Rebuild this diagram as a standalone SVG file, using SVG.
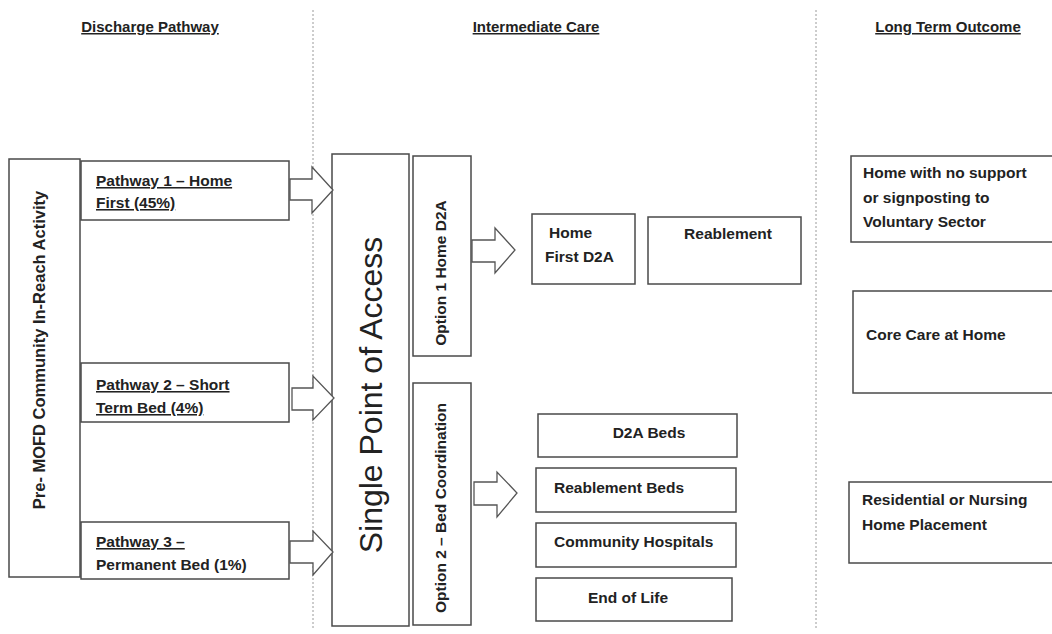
<svg xmlns="http://www.w3.org/2000/svg" width="1052" height="634" viewBox="0 0 1052 634">
<style>
.bg{fill:#ffffff}
.box{fill:#ffffff;stroke:#4a4a4a;stroke-width:1.5}
.div{stroke:#9a9a9a;stroke-width:1;stroke-dasharray:2,2;fill:none}
.arr{fill:#ffffff;stroke:#555555;stroke-width:1.3;stroke-linejoin:miter}
.hd{font-family:"Liberation Sans",Arial,sans-serif;font-weight:bold;font-size:15px;fill:#222;text-decoration:underline}
.t{font-family:"Liberation Sans",Arial,sans-serif;font-weight:bold;font-size:15.5px;fill:#222}
.u{text-decoration:underline}
.big{font-family:"Liberation Sans",Arial,sans-serif;font-size:32px;fill:#222}
</style>
<rect class="bg" x="0" y="0" width="1052" height="634"/>
<g id="dividers">
<line class="div" x1="313" y1="10" x2="313" y2="630"/>
<line class="div" x1="816" y1="10" x2="816" y2="630"/>
</g>
<g id="headers">
<text class="hd" x="150" y="32" text-anchor="middle">Discharge Pathway</text>
<text class="hd" x="536" y="32" text-anchor="middle">Intermediate Care</text>
<text class="hd" x="948" y="32" text-anchor="middle">Long Term Outcome</text>
</g>
<g id="pre-mofd">
<rect class="box" x="9" y="159" width="71" height="418"/>
<text class="t" style="font-size:16.5px" transform="translate(45,350) rotate(-90)" text-anchor="middle">Pre- MOFD Community In-Reach Activity</text>
</g>
<g id="pathway1">
<rect class="box" x="81" y="161" width="208" height="59"/>
<text class="t u" x="96" y="186">Pathway 1 – Home</text>
<text class="t u" x="96" y="208">First (45%)</text>
</g>
<g id="pathway2">
<rect class="box" x="81" y="363" width="208" height="59"/>
<text class="t u" x="96" y="390">Pathway 2 – Short</text>
<text class="t u" x="96" y="413">Term Bed (4%)</text>
</g>
<g id="pathway3">
<rect class="box" x="81" y="522" width="208" height="57"/>
<text class="t u" x="96" y="547">Pathway 3 –</text>
<text class="t" x="96" y="570">Permanent Bed (1%)</text>
</g>
<g id="spa">
<rect class="box" x="332" y="154" width="77" height="472"/>
<text class="big" transform="translate(382,395) rotate(-90)" text-anchor="middle">Single Point of Access</text>
</g>
<g id="option1">
<rect class="box" x="413" y="156" width="58" height="200"/>
<text class="t" transform="translate(446,273) rotate(-90)" text-anchor="middle">Option 1 Home D2A</text>
</g>
<g id="option2">
<rect class="box" x="413" y="383" width="58" height="242"/>
<text class="t" transform="translate(446,508) rotate(-90)" text-anchor="middle">Option 2 – Bed Coordination</text>
</g>
<g id="home-first-d2a">
<rect class="box" x="532" y="214" width="103" height="70"/>
<text class="t" x="549" y="238">Home</text>
<text class="t" x="545" y="262">First D2A</text>
</g>
<g id="reablement">
<rect class="box" x="648" y="217" width="153" height="67"/>
<text class="t" x="728" y="239" text-anchor="middle">Reablement</text>
</g>
<g id="d2a-beds">
<rect class="box" x="538" y="414" width="199" height="43"/>
<text class="t" x="649" y="438" text-anchor="middle">D2A Beds</text>
</g>
<g id="reablement-beds">
<rect class="box" x="536" y="468" width="200" height="44"/>
<text class="t" x="554" y="493">Reablement Beds</text>
</g>
<g id="community-hospitals">
<rect class="box" x="536" y="523" width="200" height="44"/>
<text class="t" x="554" y="547">Community Hospitals</text>
</g>
<g id="end-of-life">
<rect class="box" x="536" y="578" width="196" height="43"/>
<text class="t" x="628" y="603" text-anchor="middle">End of Life</text>
</g>
<g id="outcome-home">
<rect class="box" x="851" y="156" width="210" height="86"/>
<text class="t" x="863" y="178">Home with no support</text>
<text class="t" x="863" y="203">or signposting to</text>
<text class="t" x="863" y="227">Voluntary Sector</text>
</g>
<g id="outcome-core">
<rect class="box" x="853" y="291" width="210" height="102"/>
<text class="t" x="866" y="340">Core Care at Home</text>
</g>
<g id="outcome-residential">
<rect class="box" x="849" y="482" width="212" height="81"/>
<text class="t" x="862" y="505">Residential or Nursing</text>
<text class="t" x="862" y="530">Home Placement</text>
</g>
<g id="connectors">
<polygon class="arr" points="290,179 312,179 312,167 333,190 312,213 312,200 290,200"/>
<polygon class="arr" points="292,388 313,388 313,376 334,398 313,420 313,410 292,410"/>
<polygon class="arr" points="290,541 313,541 313,531 333,552 313,575 313,563 290,563"/>
<polygon class="arr" points="472,240 495,240 495,228 515,250 495,273 495,262 472,262"/>
<polygon class="arr" points="474,482 497,482 497,472 517,493 497,517 497,505 474,505"/>
</g>
</svg>
